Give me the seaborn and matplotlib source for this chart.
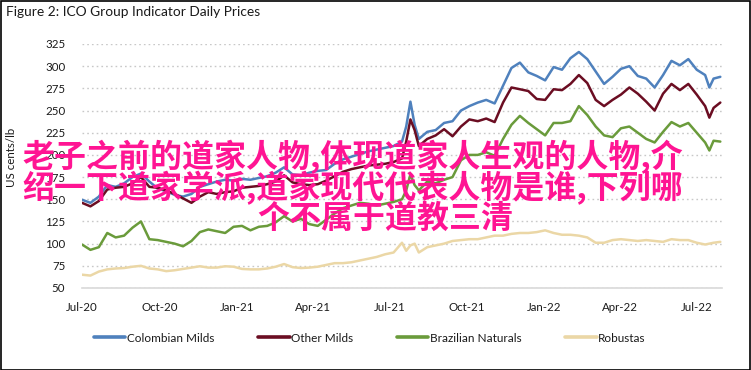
import numpy as np
import pandas as pd
import matplotlib
matplotlib.use("Agg")
import matplotlib.pyplot as plt
import matplotlib.dates as mdates
from matplotlib.patches import Rectangle
import seaborn as sns

# ---- data ----
start_date = "2020-07-01"
days_since_start = [0, 10, 20, 30, 40, 50, 60, 70, 80, 90,
                    100, 110, 120, 130, 140, 150, 160, 170, 180, 190,
                    200, 210, 220, 230, 240, 250, 260, 270, 280, 290,
                    300, 310, 320, 330, 340, 350, 360, 370, 380,
                    385, 390, 395,
                    400, 410, 420, 430, 440, 450, 460, 470, 480, 490,
                    500, 510, 520, 530, 540, 550, 560, 570, 580, 590,
                    600, 610, 620, 630, 640, 650, 660, 670, 680, 690,
                    700, 710, 720, 730, 740,
                    745, 750, 758]

colombian_milds = [149.5, 146, 153, 166, 164, 168, 175, 179, 170, 162,
                   159, 155, 153, 156, 164, 167, 170, 172, 171, 173,
                   172, 174, 176, 180, 186, 178, 177, 180, 182, 183,
                   190, 195, 198, 201, 204, 206, 208, 210, 215,
                   232, 260, 234,
                   218, 226, 228, 236, 238, 250, 255, 259, 262, 258,
                   278, 298, 304, 293, 289, 284, 299, 296, 309, 316,
                   308, 294, 280, 288, 297, 300, 289, 286, 276, 290,
                   306, 301, 308, 296, 290,
                   276, 286, 288]

other_milds = [146, 142, 148, 161, 163, 164, 168, 175, 164, 163,
               160, 156, 151, 146, 153, 158, 156, 158, 159, 163,
               164, 165, 167, 170, 177, 169, 167, 166, 167, 171,
               176, 181, 184, 186, 188, 189, 190, 192, 196,
               215, 240, 228,
               210, 218, 222, 229, 221, 232, 240, 238, 241, 237,
               259, 276, 274, 272, 263, 262, 274, 273, 280, 290,
               281, 262, 255, 262, 268, 276, 269, 260, 250, 269,
               280, 273, 280, 268, 255,
               242, 253, 259]

brazilian_naturals = [99, 93, 96, 112, 107, 109, 118, 125, 105, 104,
                      102, 100, 97, 103, 113, 116, 114, 112, 119, 120,
                      115, 119, 120, 124, 131, 125, 128, 122, 120, 127,
                      134, 140, 143, 146, 145, 143, 145, 147, 150,
                      160, 178, 166,
                      160, 170, 168, 172, 175, 194, 200, 200, 203, 199,
                      218, 234, 244, 236, 229, 222, 236, 236, 238, 255,
                      245, 232, 222, 220, 230, 232, 225, 218, 214, 226,
                      237, 232, 236, 225, 214,
                      205, 216, 215]

robustas = [65, 64, 68.5, 71, 72, 72.5, 74, 75, 72, 71,
            69, 70, 71.5, 73, 74.5, 73, 73, 74.5, 74, 71.5,
            71, 71, 72, 74, 77, 73.5, 72.5, 73, 74, 76,
            78, 78, 79, 81, 83, 85, 88, 90, 101,
            92, 98, 100,
            90, 96, 98, 100, 103, 104, 105, 105, 107, 109,
            109, 111, 112, 112, 113, 115, 112, 110, 110, 109,
            107, 101, 101, 104, 105, 104, 103, 104, 103, 102,
            105, 104, 104, 101, 99,
            100, 101, 102]

series_names = ["Colombian Milds", "Other Milds", "Brazilian Naturals", "Robustas"]
series_colors = ["#4F81BD", "#6B0D22", "#6A9B3B", "#EBD7A6"]
y_ticks = [50, 75, 100, 125, 150, 175, 200, 225, 250, 275, 300, 325]
x_tick_dates = ["2020-07-01", "2020-10-01", "2021-01-01", "2021-04-01", "2021-07-01",
                "2021-10-01", "2022-01-01", "2022-04-01", "2022-07-01"]
x_range = ["2020-07-01", "2022-07-31"]

title_text = "Figure 2: ICO Group Indicator Daily Prices"
y_label = "US cents/lb"
overlay_lines = ["老子之前的道家人物,体现道家人生观的人物,介",
                 "绍一下道家学派,道家现代代表人物是谁,下列哪",
                 "个不属于道教三清"]

# ---- build long table ----
dates = pd.Timestamp(start_date) + pd.to_timedelta(days_since_start, unit="D")
frames = []
for name, vals in zip(series_names, [colombian_milds, other_milds, brazilian_naturals, robustas]):
    frames.append(pd.DataFrame({"date": dates, "price": vals, "series": name}))
df = pd.concat(frames, ignore_index=True)

sns.set_theme(style="white")
plt.rcParams["font.family"] = ["Lato", "DejaVu Sans"]

W, H = 751, 370
fig = plt.figure(figsize=(W / 100, H / 100), dpi=100)
ax = fig.add_axes([82 / W, 1 - 288 / H, (722 - 82) / W, (288 - 44) / H])

sns.lineplot(data=df, x="date", y="price", hue="series", hue_order=series_names,
             palette=dict(zip(series_names, series_colors)), linewidth=1.8,
             marker="", markers=False, dashes=False, ax=ax, legend=True)

ax.set_ylim(50, 325)
ax.set_yticks(y_ticks)
ax.set_xlim(pd.Timestamp(x_range[0]), pd.Timestamp(x_range[1]))
ax.set_xticks([pd.Timestamp(d) for d in x_tick_dates])
ax.xaxis.set_major_formatter(mdates.DateFormatter("%b-%y"))
ax.tick_params(axis="both", length=0, labelsize=8.3, colors="#1a1a1a")
ax.tick_params(axis="y", pad=12)
ax.tick_params(axis="x", pad=10)
for s in ["top", "right", "left"]:
    ax.spines[s].set_visible(False)
ax.spines["bottom"].set_color("#d9d9d9")
ax.spines["bottom"].set_linewidth(1.2)
ax.yaxis.grid(True, color="#c8c8c8", linestyle=(0, (1.2, 2.2)), linewidth=1.0)
ax.set_axisbelow(True)
ax.set_xlabel("")
ax.set_ylabel("")
ax.patch.set_alpha(0)

handles, labels = ax.get_legend_handles_labels()
ax.get_legend().remove()
for h in handles:
    h.set_linewidth(2.6)
    h.set_marker("")
fig.legend(handles, labels, loc="center", bbox_to_anchor=(0.492, 1 - 338 / H), ncol=4,
           frameon=False, fontsize=8.5, handlelength=2.7, handletextpad=0.1,
           columnspacing=3.7, labelcolor="#1a1a1a")

fig.text(12 / W, 1 - 157 / H, y_label, rotation=90, ha="center", va="center",
         fontsize=8.3, color="#1a1a1a")
fig.text(6 / W, 1 - 12 / H, title_text, ha="left", va="center", fontsize=9.9, color="#1a1a1a")

# overlay text
line_y = [157, 188, 219]
line_x = [22, 22, 257]
for txt, yy, xx in zip(overlay_lines, line_y, line_x):
    fig.text(xx / W, 1 - yy / H, txt, ha="left", va="center", fontsize=23,
             color="#FF1493", family=["Noto Sans CJK SC", "DejaVu Sans"], weight="bold")

fig.patches.append(Rectangle((0.5 / W, 0.5 / H), 1 - 1.5 / W, 1 - 1.5 / H, transform=fig.transFigure,
                             fill=False, edgecolor="black", linewidth=1.2))

fig.savefig("out.png", dpi=100)
